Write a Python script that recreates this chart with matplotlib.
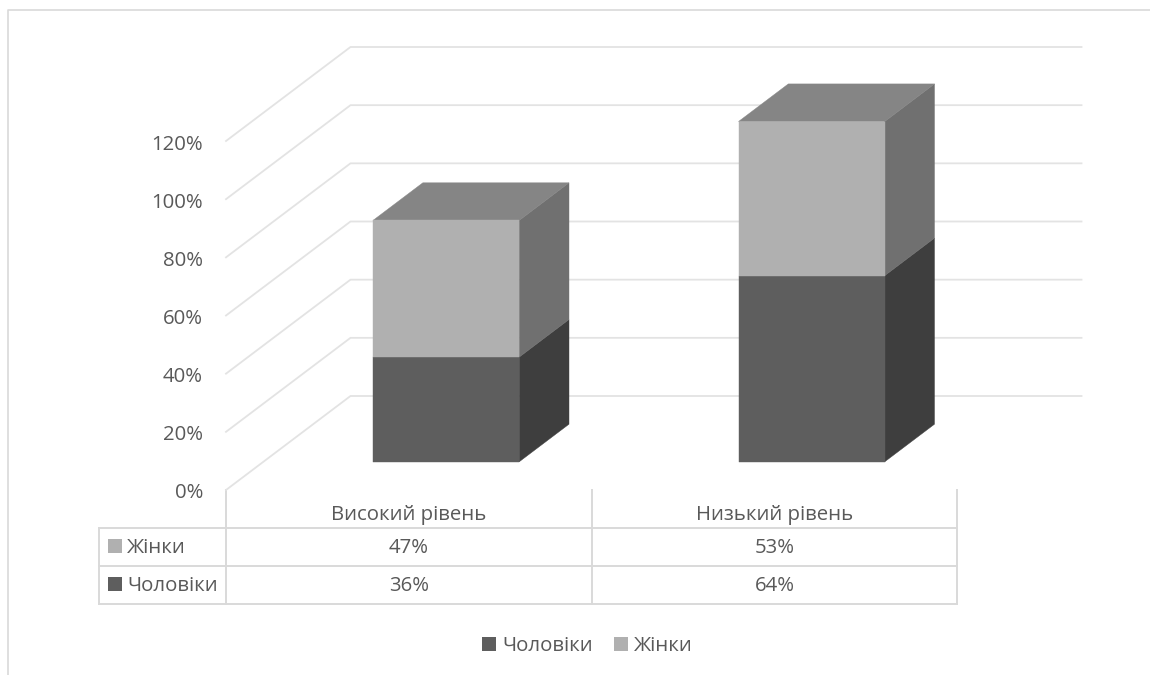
import matplotlib
matplotlib.use("Agg")
import matplotlib.pyplot as plt
from matplotlib.patches import Rectangle
from matplotlib.transforms import ScaledTranslation

plt.rcParams["font.family"] = ["Open Sans", "DejaVu Sans"]

# Chart data, in percent
categories = ["Високий рівень", "Низький рівень"]
men = [36, 64]
women = [47, 53]
men_label = "Чоловіки"
women_label = "Жінки"
y_ticks = [0, 20, 40, 60, 80, 100, 120]

# Greys for the faces of the columns
men_front, men_side = "#5e5e5e", "#3e3e3e"
women_front, women_side, women_top = "#b0b0b0", "#707070", "#858585"
grid_color = "#e3e3e3"
line_color = "#d9d9d9"
text_color = "#595959"
font_size = 14.7

W, H = 1150, 675

fig = plt.figure(figsize=(W / 100, H / 100), dpi=100, facecolor="white")

# Full-figure layer in pixels for the frame, the data table and the legend
page = fig.add_axes([0, 0, 1, 1])
page.set_xlim(0, W)
page.set_ylim(H, 0)
page.axis("off")

# The plot axes: the front plane of the 3D box
left, right, bottom, top = 226, 957, 490, 141
ax = fig.add_axes([left / W, 1 - bottom / H, (right - left) / W, (bottom - top) / H])
ax.set_xlim(0, len(categories))
ax.set_ylim(0, 120)
ax.patch.set_visible(False)
for spine in ax.spines.values():
    spine.set_visible(False)

# Depth of the box, in data units
depth_x = 124.5 / ((right - left) / len(categories))
depth_y = 94 / ((bottom - top) / 120)
bar_width = 0.4
bar_near, bar_far = 0.3, 0.7


def project(x, value, depth):
    return x + depth * depth_x, value + depth * depth_y


def draw_face(points, color, z):
    xs = [p[0] for p in points]
    ys = [p[1] for p in points]
    ax.fill(xs, ys, color=color, lw=0.3, clip_on=False, zorder=z)


def draw_segment(center, low, high, front, side, cap=None):
    x0, x1 = center - bar_width / 2, center + bar_width / 2
    draw_face([project(x0, low, bar_near), project(x1, low, bar_near),
               project(x1, high, bar_near), project(x0, high, bar_near)], front, 4)
    draw_face([project(x1, low, bar_near), project(x1, low, bar_far),
               project(x1, high, bar_far), project(x1, high, bar_near)], side, 3)
    if cap:
        draw_face([project(x0, high, bar_near), project(x1, high, bar_near),
                   project(x1, high, bar_far), project(x0, high, bar_far)], cap, 3)


# Gridlines run along the side wall and then across the back wall
for tick in y_ticks:
    xs, ys = zip(project(0, tick, 0), project(0, tick, 1), project(len(categories), tick, 1))
    ax.plot(xs, ys, color=grid_color, lw=1.3, clip_on=False, zorder=1)

for i in range(len(categories)):
    draw_segment(i + 0.5, 0, men[i], men_front, men_side)
    draw_segment(i + 0.5, men[i], men[i] + women[i], women_front, women_side, women_top)

ax.set_xticks([])
ax.set_yticks(y_ticks)
ax.set_yticklabels([f"{t}%" for t in y_ticks], color=text_color, fontsize=font_size)
ax.tick_params(axis="y", length=0, pad=16.5)
# Nudge the tick labels down a pixel
nudge = ScaledTranslation(0, -1 / 100, fig.dpi_scale_trans)
for label in ax.get_yticklabels():
    label.set_transform(label.get_transform() + nudge)

# Outer frame, only the top and left edges are visible
page.plot([8, 8, W], [H, 10, 10], color=line_color, lw=1.2)

# Data table under the plot
col_x = [99, 226, 592, 957]
row_y = [527.5, 565.5, 603.5]
header_y = 490
for y in row_y:
    page.plot([col_x[0], col_x[-1]], [y, y], color=line_color, lw=1.4)
page.plot([col_x[0], col_x[0]], [row_y[0], row_y[-1]], color=line_color, lw=1.4)
for x in col_x[1:]:
    page.plot([x, x], [header_y, row_y[-1]], color=line_color, lw=1.4)

for i, name in enumerate(categories):
    cx = (col_x[i + 1] + col_x[i + 2]) / 2
    page.text(cx, 515, name, ha="center", va="center", color=text_color, fontsize=font_size)
    page.text(cx, 548, f"{women[i]}%", ha="center", va="center", color=text_color, fontsize=font_size)
    page.text(cx, 586, f"{men[i]}%", ha="center", va="center", color=text_color, fontsize=font_size)

rows = [(women_label, women_front, 546), (men_label, men_front, 584)]
for label, color, y in rows:
    page.add_patch(Rectangle((108, y - 7), 14, 14, color=color, lw=0))
    page.text(127, y + 2, label, ha="left", va="center", color=text_color, fontsize=font_size)

# Legend below the table
legend_y = 644
for label, color, x in [(men_label, men_front, 482), (women_label, women_front, 614)]:
    page.add_patch(Rectangle((x, legend_y - 7), 14, 14, color=color, lw=0))
    page.text(x + 20, legend_y + 2, label, ha="left", va="center", color=text_color, fontsize=font_size)

fig.savefig("out.png", dpi=100)
